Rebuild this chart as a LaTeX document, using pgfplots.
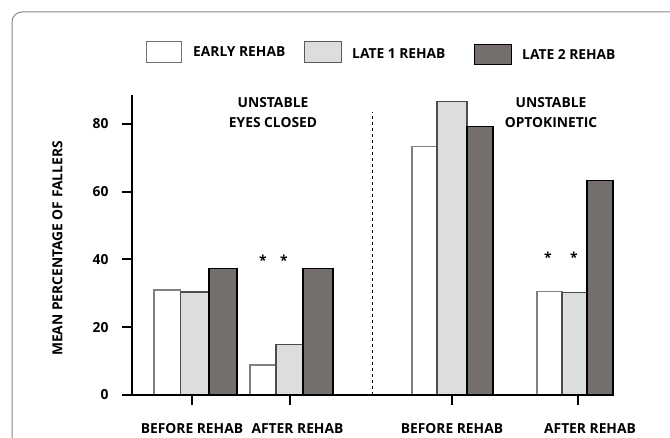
\documentclass[border=0pt]{standalone}
\usepackage{fontspec}
\setmainfont{Open Sans}
\usepackage{pgfplots}
\pgfplotsset{compat=1.18}
\definecolor{lightbar}{RGB}{220,221,223}
\definecolor{darkbar}{RGB}{116,111,109}
\definecolor{framegray}{RGB}{135,135,135}
\newcommand{\lbl}{\fontsize{13.8}{19.5}\selectfont\bfseries}
\pgfplotsset{
  wbar/.style={ybar, bar shift=0pt, fill=white, draw=black!50, line width=1.2pt},
  lbar/.style={ybar, bar shift=0pt, fill=lightbar, draw=black!70, line width=1.2pt},
  dbar/.style={ybar, bar shift=0pt, fill=darkbar, draw=black, line width=1.2pt},
}

\begin{document}
\begin{tikzpicture}
\begin{scope}[x=1pt,y=1pt]
\useasboundingbox (0,0) rectangle (670,436);
\draw[framegray, line width=1pt, rounded corners=10pt] (12,-30) -- (12,424) -- (700,424);
% legend
\draw[black!55, line width=1pt, fill=white] (146,373) rectangle (181,394);
\node[font=\lbl, anchor=base west, inner sep=0pt] at (193,379) {EARLY REHAB};
\draw[black!65, line width=1pt, fill=lightbar] (304,373) rectangle (341,394);
\node[font=\lbl, anchor=base west, inner sep=0pt] at (352,377) {LATE 1 REHAB};
\draw[black, line width=1pt, fill=darkbar] (474,371) rectangle (511,391);
\node[font=\lbl, anchor=base west, inner sep=0pt] at (522,376) {LATE 2 REHAB};
\end{scope}

\begin{axis}[
  at={(132pt,41pt)}, anchor=south west,
  scale only axis, width=481pt, height=300pt,
  xmin=132, xmax=613, ymin=0, ymax=88.56,
  axis on top, clip=false,
  axis lines=left,
  axis line style={line width=2.5pt, -, black},
  ytick={0,20,40,60,80},
  xtick={192,290,452,578},
  xticklabels={BEFORE REHAB, \hspace{15pt}AFTER REHAB, BEFORE REHAB\hspace{7pt}, \hspace{24pt}AFTER REHAB},
  tick align=outside, major tick length=10pt,
  tick style={line width=2pt, black},
  /pgf/number format/assume math mode=true,
  yticklabel style={font=\lbl, xshift=-10pt},
  xticklabel style={font=\lbl, yshift=-15pt},
  ylabel={MEAN PERCENTAGE OF FALLERS},
  ylabel style={font=\lbl, at={(axis cs:57.5,43.25)}, anchor=center},
]
\addplot[wbar, bar width=26.5] coordinates {(167.25,31)};
\addplot[wbar, bar width=26] coordinates {(263,8.85)};
\addplot[wbar, bar width=25] coordinates {(424.5,73.25)};
\addplot[wbar, bar width=25] coordinates {(549.5,30.5)};
\addplot[lbar, bar width=28.5] coordinates {(194.75,30.4)};
\addplot[lbar, bar width=27] coordinates {(289.5,14.95)};
\addplot[lbar, bar width=30] coordinates {(452,86.7)};
\addplot[lbar, bar width=25] coordinates {(574.5,30.3)};
\addplot[dbar, bar width=28] coordinates {(223,37.4)};
\addplot[dbar, bar width=30] coordinates {(318,37.4)};
\addplot[dbar, bar width=26] coordinates {(480,79.15)};
\addplot[dbar, bar width=26] coordinates {(600,63.4)};

\draw[dashed, line width=0.8pt] (axis cs:372,0) -- (axis cs:372,83.5);
\node[font=\lbl, align=center] at (axis cs:273,83.34) {UNSTABLE\\EYES CLOSED};
\node[font=\lbl, align=center] at (axis cs:551,83.34) {UNSTABLE\\OPTOKINETIC};
\node[font=\lbl, anchor=base] at (axis cs:263,38.2) {*};
\node[font=\lbl, anchor=base] at (axis cs:284,38.2) {*};
\node[font=\lbl, anchor=base] at (axis cs:548,39.1) {*};
\node[font=\lbl, anchor=base] at (axis cs:574,39.1) {*};
\end{axis}
\end{tikzpicture}
\end{document}
